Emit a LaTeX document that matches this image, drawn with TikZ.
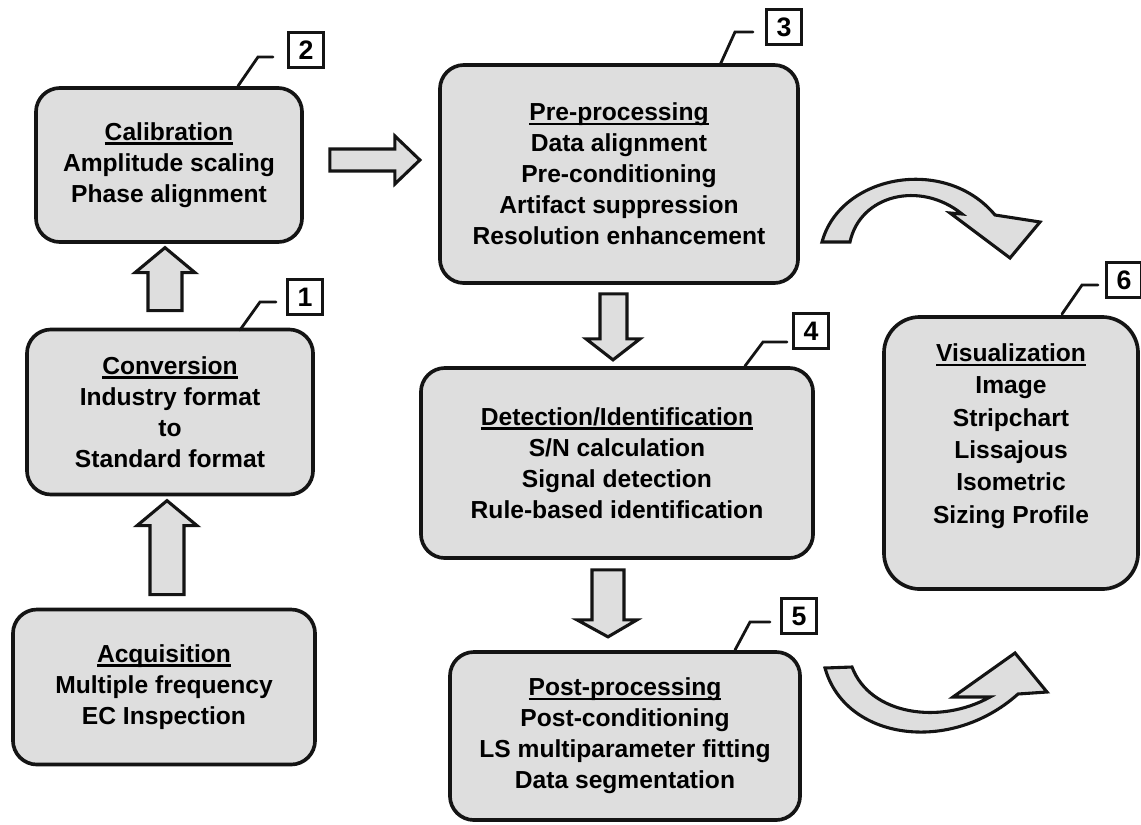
\documentclass[tikz,border=0pt]{standalone}
\usepackage{fontspec}
\setmainfont{Liberation Sans}
\usepackage{xcolor}
\usetikzlibrary{positioning}
\definecolor{scangray}{RGB}{222,222,222}
\definecolor{inkblack}{RGB}{20,20,20}
\newcommand{\ttl}[1]{\setbox0=\hbox{#1}\rlap{\rule[-3pt]{\wd0}{1.6pt}}\box0}

\begin{document}
\begin{tikzpicture}[
    x=0.025cm, y=-0.025cm,
    box/.style={
        rectangle,
        rounded corners=0.6cm,
        draw=inkblack,
        fill=scangray,
        line width=2.6pt,
        align=center,
        inner sep=0pt,
        font=\fontsize{17.5}{22}\selectfont\bfseries
    },
    tag/.style={
        rectangle,
        draw=inkblack,
        fill=white,
        line width=2pt,
        minimum size=0.88cm,
        inner sep=0pt,
        font=\fontsize{19}{19}\selectfont\bfseries
    },
    leader/.style={
        draw=inkblack,
        line width=2pt,
        line cap=round
    },
    blockarrow/.style={
        draw=inkblack,
        fill=scangray,
        line width=2.2pt,
        line join=miter
    }
]

\useasboundingbox (0,0) rectangle (1141,824);

% Process boxes
\node[box, minimum width=6.65cm, minimum height=3.85cm] (cal) at (169,165)
    {\ttl{Calibration}\\Amplitude scaling\\Phase alignment};
\node[box, minimum width=7.15cm, minimum height=4.125cm] (conv) at (170,412)
    {\ttl{Conversion}\\Industry format\\to\\Standard format};
\node[box, minimum width=7.55cm, minimum height=3.875cm] (acq) at (164,687)
    {\ttl{Acquisition}\\Multiple frequency\\EC Inspection};
\node[box, minimum width=8.95cm, minimum height=5.45cm] (pre) at (619,174)
    {\ttl{Pre-processing}\\Data alignment\\Pre-conditioning\\Artifact suppression\\Resolution enhancement};
\node[box, minimum width=9.8cm, minimum height=4.75cm] (det) at (617,463)
    {\ttl{Detection/Identification}\\S/N calculation\\Signal detection\\Rule-based identification};
\node[box, minimum width=8.75cm, minimum height=4.2cm] (post) at (625,736)
    {\ttl{Post-processing}\\Post-conditioning\\LS multiparameter fitting\\Data segmentation};
\node[box, rounded corners=0.9cm, minimum width=6.35cm, minimum height=6.8cm] (vis) at (1011,453)
    {\ttl{Visualization}\\[1pt]Image\\[1pt]Stripchart\\[1pt]Lissajous\\[1pt]Isometric\\[1pt]Sizing Profile\\[0.2cm]};

% Number tags
\node[tag] (n1) at (305,297) {1};
\node[tag] (n2) at (306,50) {2};
\node[tag] (n3) at (784,27) {3};
\node[tag] (n4) at (811,331) {4};
\node[tag] (n5) at (799,616) {5};
\node[tag] (n6) at (1124,280) {6};

% Leader lines
\coordinate (t1) at (240,330);
\coordinate (t2) at (238,86);
\coordinate (t3) at (720,65);
\coordinate (t4) at (745,366);
\coordinate (t5) at (735,650);
\coordinate (t6) at (1062,314);
\draw[leader] (t1) -- ++(20,-28) -- ++(16,0);
\draw[leader] (t2) -- ++(20,-29) -- ++(15,0);
\draw[leader] (t3) -- ++(15,-33) -- ++(18,0);
\draw[leader] (t4) -- ++(18,-24) -- ++(24,0);
\draw[leader] (t5) -- ++(15,-28) -- ++(20,0);
\draw[leader] (t6) -- ++(20,-29) -- ++(16,0);

% Block arrows
\draw[blockarrow] (acq.north) ++(-14,-13) coordinate (a1)
    (a1) -- ++(0,-69) -- ++(-13,0) -- ++(30,-25) -- ++(30,25) -- ++(-13,0) -- ++(0,69) -- cycle;
\draw[blockarrow] (conv.north) ++(-22,-17) coordinate (a2)
    (a2) -- ++(0,-38) -- ++(-13,0) -- ++(30,-25) -- ++(30,25) -- ++(-13,0) -- ++(0,38) -- cycle;
\draw[blockarrow] (cal.east) ++(26,-16) coordinate (a3)
    (a3) -- ++(65,0) -- ++(0,-13) -- ++(25,24) -- ++(-25,24) -- ++(0,-13) -- ++(-65,0) -- cycle;
\draw[blockarrow] (pre.south) ++(-19,9) coordinate (a4)
    (a4) -- ++(0,45) -- ++(-14,0) -- ++(27,21) -- ++(27,-21) -- ++(-13,0) -- ++(0,-45) -- cycle;
\draw[blockarrow] (det.south) ++(-25,10) coordinate (a5)
    (a5) -- ++(0,50) -- ++(-15,0) -- ++(31,17) -- ++(29,-17) -- ++(-13,0) -- ++(0,-50) -- cycle;

% Curved arrows towards visualization
\draw[blockarrow] (822,242) .. controls (840,175) and (945,155) .. (995,215)
    -- (1040,222) -- (1010,258) -- (950,213) -- (962,214)
    .. controls (920,180) and (860,195) .. (850,242) -- cycle;
\draw[blockarrow] (825,668) .. controls (845,740) and (950,755) .. (1018,694)
    -- (1047,692) -- (1015,653) -- (953,697) -- (990,697)
    .. controls (940,725) and (870,715) .. (852,667) -- cycle;

\end{tikzpicture}
\end{document}
